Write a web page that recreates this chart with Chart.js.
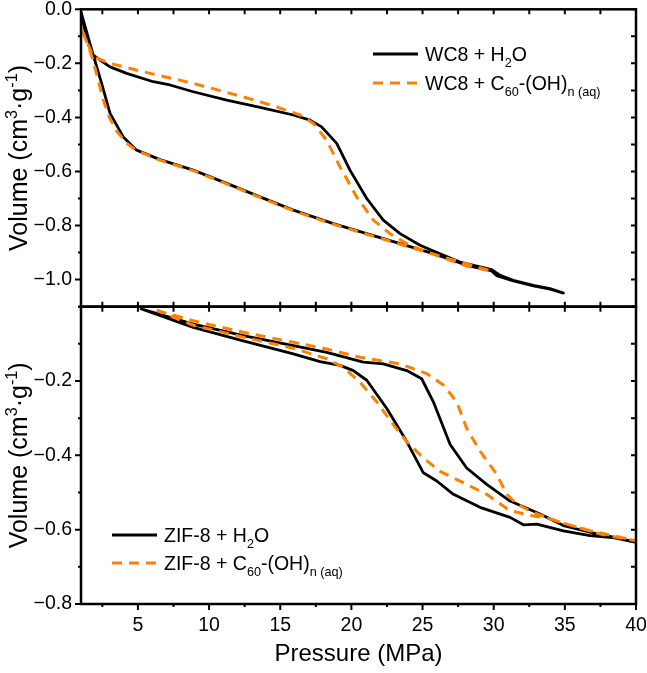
<!DOCTYPE html>
<html>
<head>
<meta charset="utf-8">
<title>Pressure - volume curves</title>
<script src="https://cdn.jsdelivr.net/npm/chart.js@4.4.1/dist/chart.umd.min.js"></script>
<style>
  html, body { margin: 0; padding: 0; background: #fff; }
  canvas { display: block; }
</style>
</head>
<body>
<canvas id="pvChart" width="647" height="673"></canvas>
<script>
// Pressure (MPa) / volume change (cm3/g), compression then decompression
const wc8WaterP = [1.0, 1.86, 3.04, 4.21, 6.08, 7.25, 8.89, 11.24, 13.58, 15.92, 17.09, 17.91, 18.97, 19.9, 21.08, 22.24, 23.42, 24.82, 26.23, 27.63, 29.86, 30.45, 31.38, 32.79, 33.96, 34.9,
                   33.96, 32.79, 31.38, 30.2, 29.86, 28.1, 25.76, 23.42, 21.08, 18.73, 15.92, 13.58, 11.24, 8.89, 6.55, 4.91, 3.97, 3.04, 2.45, 1.86, 1.28, 1.0];
const wc8WaterV = [-0.01, -0.17, -0.213, -0.237, -0.268, -0.28, -0.305, -0.336, -0.363, -0.391, -0.41, -0.435, -0.496, -0.595, -0.70, -0.78, -0.83, -0.873, -0.904, -0.935, -0.963, -0.984, -1.003, -1.021, -1.033, -1.05,
                   -1.035, -1.023, -1.005, -0.985, -0.968, -0.947, -0.904, -0.867, -0.83, -0.793, -0.743, -0.694, -0.644, -0.595, -0.556, -0.521, -0.472, -0.385, -0.274, -0.169, -0.077, -0.02];

const wc8FullereneP = [1.0, 1.5, 1.86, 3.04, 5.38, 8.89, 12.4, 14.75, 16.39, 17.33, 18.26, 19.2, 20.37, 21.55, 22.72, 23.89, 25.29, 27.63, 29.86,
                       28.1, 25.76, 23.42, 21.08, 18.73, 15.92, 13.58, 11.24, 8.89, 6.55, 4.91, 4.2, 3.5, 3.0, 2.57, 2.2, 1.8, 1.4, 1.0];
const wc8FullereneV = [-0.07, -0.13, -0.175, -0.2, -0.231, -0.274, -0.324, -0.361, -0.391, -0.422, -0.484, -0.583, -0.694, -0.78, -0.83, -0.867, -0.898, -0.935, -0.968,
                       -0.95, -0.906, -0.869, -0.832, -0.795, -0.745, -0.696, -0.646, -0.597, -0.558, -0.523, -0.495, -0.45, -0.40, -0.336, -0.26, -0.18, -0.12, -0.07];

const zifWaterP = [5.15, 8.89, 12.4, 15.92, 18.26, 20.84, 22.24, 23.89, 24.94, 25.76, 26.94, 28.1, 29.51, 31.15, 33.26, 34.9, 36.77, 38.41, 40.0,
                   38.5, 36.77, 34.9, 33.03, 32.09, 31.15, 29.04, 27.17, 26.0, 25.06, 23.89, 22.49, 21.08, 20.14, 19.2, 17.8, 15.92, 12.4, 8.89, 5.15];
const zifWaterV = [-0.005, -0.047, -0.078, -0.105, -0.123, -0.149, -0.154, -0.172, -0.194, -0.256, -0.371, -0.434, -0.478, -0.523, -0.558, -0.589, -0.607, -0.62, -0.634,
                   -0.622, -0.616, -0.603, -0.585, -0.587, -0.567, -0.54, -0.505, -0.469, -0.447, -0.363, -0.274, -0.198, -0.172, -0.158, -0.148, -0.127, -0.092, -0.056, -0.005];

const zifFullereneP = [6.32, 8.89, 12.4, 15.92, 18.26, 20.6, 23.42, 25.29, 26.47, 27.4, 28.1, 29.04, 30.21, 30.92, 31.62, 32.79, 34.67, 36.77, 38.88, 40.0,
                       37.5, 35.13, 33.96, 32.79, 31.15, 29.51, 28.1, 26.23, 25.06, 23.89, 22.96, 21.78, 20.6, 19.43, 18.26, 15.92, 12.4, 8.89, 6.32];
const zifFullereneV = [-0.01, -0.038, -0.069, -0.096, -0.114, -0.136, -0.154, -0.18, -0.211, -0.256, -0.327, -0.389, -0.451, -0.505, -0.531, -0.554, -0.58, -0.603, -0.62, -0.63,
                       -0.612, -0.585, -0.571, -0.563, -0.549, -0.505, -0.478, -0.443, -0.407, -0.363, -0.318, -0.256, -0.203, -0.163, -0.14, -0.112, -0.082, -0.05, -0.01];

const pressureTicks = [5, 10, 15, 20, 25, 30, 35, 40];
const topVolumeTicks = [0, -0.2, -0.4, -0.6, -0.8, -1.0];
const bottomVolumeTicks = [-0.2, -0.4, -0.6, -0.8];

// legend labels with sub/superscript parts
const wc8WaterLabel = [{t: 'WC8 + H'}, {t: '2', sub: 1}, {t: 'O'}];
const wc8FullereneLabel = [{t: 'WC8 + C'}, {t: '60', sub: 1}, {t: '-(OH)'}, {t: 'n (aq)', sub: 1}];
const zifWaterLabel = [{t: 'ZIF-8 + H'}, {t: '2', sub: 1}, {t: 'O'}];
const zifFullereneLabel = [{t: 'ZIF-8 + C'}, {t: '60', sub: 1}, {t: '-(OH)'}, {t: 'n (aq)', sub: 1}];
const volumeTitle = [{t: 'Volume (cm'}, {t: '3', sup: 1}, {t: '\u00b7g'}, {t: '-1', sup: 1}, {t: ')'}];

const BLACK = '#000000';
const ORANGE = '#FF8000';
const FONT = '"Liberation Sans", Arial, sans-serif';
const DASH = [10, 7];

function pts(p, v) { return p.map((x, i) => ({x: x, y: v[i]})); }
function fmtVol(v) { return v === 0 ? '0.0' : '\u2212' + Math.abs(v).toFixed(1); }
function plain(parts) { return parts.map(p => p.t).join(''); }

function richText(ctx, parts, x, y, size) {
  let cx = x;
  for (const p of parts) {
    const small = p.sub || p.sup;
    ctx.font = (small ? size * 0.65 : size) + 'px ' + FONT;
    const dy = p.sub ? size * 0.3 : (p.sup ? -size * 0.4 : 0);
    ctx.fillText(p.t, cx, y + dy);
    cx += ctx.measureText(p.t).width;
  }
  return cx - x;
}
function richWidth(ctx, parts, size) {
  let w = 0;
  for (const p of parts) {
    ctx.font = ((p.sub || p.sup) ? size * 0.65 : size) + 'px ' + FONT;
    w += ctx.measureText(p.t).width;
  }
  return w;
}

// frame, minor and major tick marks
const framePlugin = {
  id: 'frame',
  afterDraw(chart) {
    const {ctx, scales} = chart;
    const x = scales.x;
    ctx.save();
    ctx.strokeStyle = BLACK;
    const panels = [[scales.yTop, topVolumeTicks], [scales.yBot, bottomVolumeTicks]];
    panels.forEach(([y, major], k) => {
      ctx.lineWidth = 2.5;
      ctx.strokeRect(x.left, y.top, x.right - x.left, y.bottom - y.top);
      ctx.lineWidth = 2;
      ctx.beginPath();
      const yVals = [];
      for (let v = y.max; v >= y.min - 1e-9; v -= 0.1) yVals.push(Math.round(v * 10) / 10);
      yVals.forEach(v => {
        const py = y.getPixelForValue(v);
        const len = major.includes(v) ? 6 : 3;
        ctx.moveTo(x.left, py); ctx.lineTo(x.left - len, py);
        ctx.moveTo(x.right, py); ctx.lineTo(x.right - 5, py);
      });
      for (let v = 2.5; v <= 40; v += 2.5) {
        const px = x.getPixelForValue(v);
        const isMajor = pressureTicks.includes(v);
        ctx.moveTo(px, y.top); ctx.lineTo(px, y.top + 5);
        if (k === 0) {
          ctx.moveTo(px, y.bottom); ctx.lineTo(px, y.bottom - 5);
        } else {
          ctx.moveTo(px, y.bottom); ctx.lineTo(px, y.bottom + (isMajor ? 6 : 3));
        }
      }
      ctx.stroke();
    });
    ctx.restore();
  }
};

// legends inside the panels and rotated y titles
const textPlugin = {
  id: 'texts',
  afterDraw(chart) {
    const {ctx, scales} = chart;
    ctx.save();
    ctx.fillStyle = BLACK;
    ctx.textBaseline = 'alphabetic';
    const legends = [
      {x: 373, y: 54, parts: wc8WaterLabel, color: BLACK, dash: []},
      {x: 373, y: 83, parts: wc8FullereneLabel, color: ORANGE, dash: DASH},
      {x: 112, y: 535, parts: zifWaterLabel, color: BLACK, dash: []},
      {x: 112, y: 563, parts: zifFullereneLabel, color: ORANGE, dash: DASH}
    ];
    legends.forEach(l => {
      ctx.strokeStyle = l.color;
      ctx.lineWidth = 3;
      ctx.setLineDash(l.dash);
      ctx.beginPath();
      ctx.moveTo(l.x, l.y); ctx.lineTo(l.x + 45, l.y);
      ctx.stroke();
      ctx.setLineDash([]);
      richText(ctx, l.parts, l.x + 52, l.y + 7, 19.5);
    });
    [scales.yTop, scales.yBot].forEach(y => {
      const size = 25;
      const w = richWidth(ctx, volumeTitle, size);
      ctx.save();
      ctx.translate(18, (y.top + y.bottom) / 2);
      ctx.rotate(-Math.PI / 2);
      richText(ctx, volumeTitle, -w / 2, 9, size);
      ctx.restore();
    });
    ctx.restore();
  }
};

function yAxis(min, max, tickList, weight) {
  return {
    type: 'linear',
    position: 'left',
    stack: 'panels',
    stackWeight: 1,
    weight: weight,
    min: min,
    max: max,
    grid: {display: false, drawTicks: false},
    border: {display: false},
    afterBuildTicks: s => { s.ticks = tickList.map(v => ({value: v})); },
    afterFit: s => { s.width = 81; s.paddingTop = 0; s.paddingBottom = 0; },
    ticks: {
      padding: 9,
      color: BLACK,
      font: {family: FONT, size: 19.5},
      callback: v => fmtVol(v)
    }
  };
}

const config = {
  type: 'line',
  data: {
    datasets: [
      {label: plain(wc8WaterLabel), data: pts(wc8WaterP, wc8WaterV), yAxisID: 'yTop',
       borderColor: BLACK, borderWidth: 2.8, order: 2},
      {label: plain(wc8FullereneLabel), data: pts(wc8FullereneP, wc8FullereneV), yAxisID: 'yTop',
       borderColor: ORANGE, borderWidth: 3, borderDash: DASH, order: 1},
      {label: plain(zifWaterLabel), data: pts(zifWaterP, zifWaterV), yAxisID: 'yBot',
       borderColor: BLACK, borderWidth: 2.8, order: 2},
      {label: plain(zifFullereneLabel), data: pts(zifFullereneP, zifFullereneV), yAxisID: 'yBot',
       borderColor: ORANGE, borderWidth: 3, borderDash: DASH, order: 1}
    ]
  },
  options: {
    responsive: false,
    animation: false,
    devicePixelRatio: 1,
    layout: {padding: {top: 9.3, right: 11, left: 0, bottom: 0}},
    plugins: {legend: {display: false}, tooltip: {enabled: false}},
    elements: {
      point: {radius: 0},
      line: {tension: 0, fill: false, borderJoinStyle: 'round'}
    },
    scales: {
      x: {
        type: 'linear',
        position: 'bottom',
        min: 1,
        max: 40,
        grid: {display: false, drawTicks: false},
        border: {display: false},
        afterBuildTicks: s => { s.ticks = pressureTicks.map(v => ({value: v})); },
        afterFit: s => { s.height = 69; s.paddingLeft = 0; s.paddingRight = 0; },
        ticks: {padding: 10, color: BLACK, maxRotation: 0, autoSkip: false,
                font: {family: FONT, size: 19.5}, callback: v => String(v)},
        title: {display: true, text: 'Pressure (MPa)', color: BLACK,
                font: {family: FONT, size: 24}, padding: {top: 0, bottom: 4}}
      },
      yTop: yAxis(-1.1, 0, topVolumeTicks, 1),
      yBot: yAxis(-0.8, 0, bottomVolumeTicks, 0)
    }
  },
  plugins: [framePlugin, textPlugin]
};

new Chart(document.getElementById('pvChart'), config);
</script>
</body>
</html>
